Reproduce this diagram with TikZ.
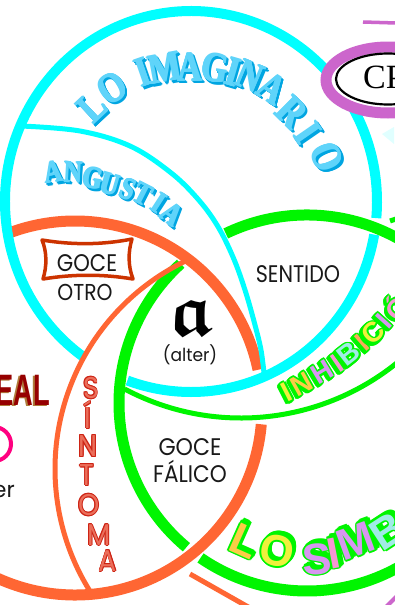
\documentclass[tikz,border=0pt]{standalone}
\usepackage{fontspec}
\usepackage{amsmath,amssymb}
\setmainfont{Poppins}
\newfontfamily\libserif{Liberation Serif}
\newfontfamily\libsans{Liberation Sans}
\definecolor{cyanR}{RGB}{0,255,255}
\definecolor{orangeR}{RGB}{255,102,51}
\definecolor{greenR}{RGB}{0,245,0}
\definecolor{purpleR}{RGB}{204,102,204}
\definecolor{boxred}{RGB}{204,51,0}
\definecolor{sintred}{RGB}{205,35,20}
\definecolor{sintcore}{RGB}{235,110,90}
\definecolor{imgface}{RGB}{95,212,250}
\definecolor{imgshadow}{RGB}{0,165,225}
\definecolor{realred}{RGB}{150,0,0}
\definecolor{realshadow}{RGB}{175,125,60}
\definecolor{pinkR}{RGB}{255,0,128}
\definecolor{inkblack}{RGB}{25,25,25}
\definecolor{rbA}{RGB}{250,205,70}
\definecolor{rbB}{RGB}{240,240,60}
\definecolor{rbC}{RGB}{215,150,240}
\definecolor{rbD}{RGB}{245,150,210}
\definecolor{rbE}{RGB}{160,235,230}
\definecolor{rbF}{RGB}{250,170,90}
% cyan word-art letter: x, y, rotation, letter, style
\newcommand\imgletter[5]{%
  \foreach \ox/\oy in {0/0,0.7/0,0/0.7}{
    \node[#5, text=imgshadow, rotate=#3] at ({#1+2.2+\ox},{#2+2.2+\oy}) {\scalebox{0.82}[1]{#4}};
    \node[#5, text=imgshadow, rotate=#3] at ({#1+1.1+\ox},{#2+1.1+\oy}) {\scalebox{0.82}[1]{#4}};
  }
  \foreach \ox/\oy in {0/0,0.6/0,-0.6/0,0/0.5,0/-0.5}
    \node[#5, text=imgface, rotate=#3] at ({#1+\ox},{#2+\oy}) {\scalebox{0.82}[1]{#4}};}
% rainbow letter with green outline: x, y, rot, fill, letter, shadow dx, shadow dy
\newcommand\rbletter[7]{%
  \foreach \ox/\oy in {1.6/0,-1.6/0,0/1.6,0/-1.6,1.1/1.1,-1.1/1.1,1.1/-1.1,-1.1/-1.1}{
    \node[rbfont, text=greenR, rotate=#3] at ({#1+\ox+#6},{#2+\oy+#7}) {#5};
    \node[rbfont, text=greenR, rotate=#3] at ({#1+\ox+0.5*#6},{#2+\oy+0.5*#7}) {#5};
    \node[rbfont, text=greenR, rotate=#3] at ({#1+\ox},{#2+\oy}) {#5};
  }
  \node[rbfont, text=#4, rotate=#3] at (#1,#2) {#5};}
% outlined red letter: x, y, letter
\newcommand\outletter[3]{%
  \foreach \ox/\oy in {0.8/0,-0.8/0,0/0.8,0/-0.8,0.57/0.57,-0.57/0.57,0.57/-0.57,-0.57/-0.57}
    \node[sintfont, text=sintred] at ({#1+\ox},{#2+\oy}) {\scalebox{0.9}[1]{#3}};
  \node[sintfont, text=sintcore] at (#1,#2) {\scalebox{0.9}[1]{#3}};}
\begin{document}
\begin{tikzpicture}[x=1pt,y=-1pt,
  cyanthick/.style={draw=cyanR, line width=10pt},
  orangethick/.style={draw=orangeR, line width=11pt},
  greenthick/.style={draw=greenR, line width=11pt},
  cyanthin/.style={draw=cyanR, line width=5pt},
  orangethin/.style={draw=orangeR, line width=5pt},
  greenthin/.style={draw=greenR, line width=5pt},
  imgbig/.style={font=\libserif\bfseries\fontsize{42}{42}\selectfont, inner sep=0pt},
  imgsmall/.style={font=\libserif\bfseries\fontsize{31}{31}\selectfont, inner sep=0pt},
  sintfont/.style={font=\fontsize{30}{30}\selectfont, inner sep=0pt},
  rbfont/.style={inner sep=0pt},
  label/.style={text=inkblack, inner sep=0pt}]
\fill[white] (0,0) rectangle (394,605);
\useasboundingbox (0,0) rectangle (394,605);

% small fragments at the edges
\fill[cyanR!12] (382,134) -- (394,127) -- (394,144) -- cycle;
\draw[purpleR, line width=3.5pt] (363,22) -- (396,23);
\draw[greenR, line width=5pt] (390,221) -- (396,219);
\draw[orangeR, line width=5pt] (190,574) -- (250,608);
\draw[purpleR, line width=4pt] (386,607) -- (397,596);

% Real (orange) thick ring
\draw[orangethick, shift={(75,408)}] (-111:187) arc[start angle=-111, end angle=-11.8, radius=187];
\draw[orangethick, shift={(75,408)}] (5:187) arc[start angle=5, end angle=200, radius=187];
% Imaginary (cyan) thick ring
\draw[cyanthick, shift={(191,201.5)}] (10:186 and 190.5) arc[start angle=10, end angle=110, x radius=186, y radius=190.5];
\draw[cyanthick, shift={(191,201.5)}] (125.5:186 and 190.5) arc[start angle=125.5, end angle=365, x radius=186, y radius=190.5];
% Symbolic (green) thick ring
\draw[greenthick, shift={(307,403)}] (-115.6:188) arc[start angle=-115.6, end angle=124.5, radius=188];
\draw[greenthick, shift={(307,403)}] (129.9:188) arc[start angle=129.9, end angle=227.8, radius=188];
% thin arcs
\draw[cyanthin] plot[smooth, tension=0.6] coordinates {(21,126) (80,131) (130,146) (170,172) (197,198) (217,225) (233,257) (245,290) (255,325) (261,350) (264,373)};
\draw[orangethin, shift={(286,469)}] (244:231) arc[start angle=244, end angle=147.5, radius=231];
\draw[greenthin, shift={(241,170)}] (118:248) arc[start angle=118, end angle=40, radius=248];

% purple ring with CP
\draw[purpleR, line width=11pt, fill=white] (388,80) ellipse[x radius=62, y radius=33];
\draw[black, line width=2.2pt] (388,79) ellipse[x radius=52, y radius=25.5];
\node[anchor=base west, font=\libserif\fontsize{34}{34}\selectfont, inner sep=0pt] (cp) at (363,88) {CP};

% LO IMAGINARIO
\imgletter{92}{107}{43.3}{L}{imgbig}
\imgletter{112}{88}{32.6}{O}{imgbig}
\imgletter{143}{72}{19.2}{I}{imgbig}
\imgletter{165}{68}{10.5}{M}{imgbig}
\imgletter{190}{67}{0.8}{A}{imgbig}
\imgletter{215}{68}{-9}{G}{imgbig}
\imgletter{233}{72}{-16.2}{I}{imgbig}
\imgletter{250}{76}{-22.8}{N}{imgbig}
\imgletter{272}{88}{-32.4}{A}{imgbig}
\imgletter{292}{112}{-44.7}{R}{imgbig}
\imgletter{308}{133}{-55.4}{I}{imgbig}
\imgletter{327}{157}{-67.5}{O}{imgbig}

% ANGUSTIA
\imgletter{53}{172}{8}{A}{imgsmall}
\imgletter{73}{172}{-3}{N}{imgsmall}
\imgletter{93}{178}{-10}{G}{imgsmall}
\imgletter{110}{184}{-16}{U}{imgsmall}
\imgletter{128}{189}{-22}{S}{imgsmall}
\imgletter{143}{194}{-27}{T}{imgsmall}
\imgletter{159}{203}{-33}{I}{imgsmall}
\imgletter{172}{214}{-38}{A}{imgsmall}

% GOCE OTRO
\draw[boxred, line width=3.5pt, line join=round] (42,240) .. controls (72,245) and (102,245) .. (132,239) .. controls (128,252) and (128,266) .. (133,279) .. controls (103,274) and (73,274) .. (43,279) .. controls (47,266) and (47,252) .. (42,240) -- cycle;
\node[label, anchor=base] (goceotro) at (87,271) {\fontsize{24}{24}\selectfont\scalebox{0.88}[1]{GOCE}};
\node[label, anchor=base] (otro) at (85,300) {\fontsize{23}{23}\selectfont\scalebox{0.88}[1]{OTRO}};
% SENTIDO
\node[label, anchor=base] (sentido) at (298,282) {\fontsize{24}{24}\selectfont\scalebox{0.86}[1]{SENTIDO}};
% objet a
\node[text=black, inner sep=0pt] (obja) at (192,318) {\fontsize{74}{74}\selectfont$\boldsymbol{\mathfrak{a}}$};
\node[label] (alter) at (190,355) {\fontsize{18}{18}\selectfont\scalebox{0.95}[1]{(alter)}};
% GOCE FALICO
\node[label, anchor=base] (gocefal) at (190,455) {\fontsize{24}{24}\selectfont\scalebox{0.92}[1]{GOCE}};
\node[label, anchor=base] (falico) at (190,482) {\fontsize{24}{24}\selectfont\scalebox{0.9}[1]{FÁLICO}};

% SINTOMA
\outletter{91}{388}{S}
\outletter{88}{415}{Í}
\outletter{88}{446}{N}
\outletter{87}{475}{T}
\outletter{89}{505}{O}
\outletter{99}{535}{M}
\outletter{108}{561}{A}

% REAL (cut at the left edge)
\node[anchor=base east, text=realshadow, inner sep=0pt, font=\libsans\bfseries\fontsize{44}{44}\selectfont] at (48,406.5) {\scalebox{0.62}[1]{REAL}};
\node[anchor=base east, text=realred, inner sep=0pt, font=\libsans\bfseries\fontsize{44}{44}\selectfont] (real) at (50,405) {\scalebox{0.62}[1]{REAL}};
\draw[pinkR, line width=4pt] (-6,444) circle[radius=17];
\node[label, anchor=base east] (er) at (15,497) {\fontsize{22}{22}\selectfont er};

% INHIBICION
\begin{scope}[rbfont/.style={font=\libsans\bfseries\fontsize{28}{28}\selectfont, inner sep=0pt}]
\rbletter{287}{392}{27}{rbB}{I}{-2}{2}
\rbletter{302}{384}{29}{rbA}{N}{-2}{2}
\rbletter{322}{372}{31}{rbC}{H}{-2}{2}
\rbletter{337}{363}{34}{rbD}{I}{-2}{2}
\rbletter{349}{354}{38}{rbE}{B}{-2}{2}
\rbletter{362}{343}{41}{rbF}{I}{-2}{2}
\rbletter{373}{333}{44}{rbB}{C}{-2}{2}
\rbletter{384}{321}{48}{rbC}{I}{-2}{2}
\rbletter{396}{307}{51}{rbD}{Ó}{-2}{2}
\end{scope}

% LO SIMBOLICO
\begin{scope}[rbfont/.style={font=\libsans\bfseries\fontsize{44}{44}\selectfont, inner sep=0pt}]
\rbletter{245}{541}{-24}{rbA}{L}{3}{-3}
\rbletter{277}{551}{-11}{rbB}{O}{3}{-3}
\rbletter{317}{559}{4}{rbC}{S}{3}{-3}
\rbletter{334}{553}{11}{rbD}{I}{3}{-3}
\rbletter{356}{541}{20}{rbC}{M}{3}{-3}
\rbletter{388}{531}{33}{rbE}{B}{3}{-3}
\end{scope}
\end{tikzpicture}
\end{document}
